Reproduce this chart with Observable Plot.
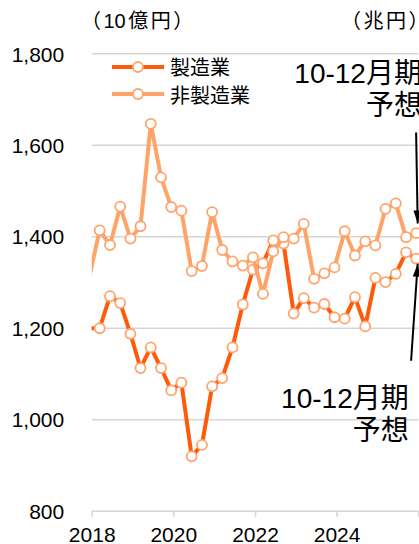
<!DOCTYPE html>
<html><head><meta charset="utf-8">
<script src="https://cdn.jsdelivr.net/npm/d3@7"></script>
<script src="https://cdn.jsdelivr.net/npm/@observablehq/plot@0.6"></script>
<style>
body{margin:0;background:#fff;}
#wrap{position:relative;width:419px;height:544px;overflow:hidden;background:#fff;font-family:"Liberation Sans","Noto Sans CJK JP",sans-serif;color:#000;}
.unit{position:absolute;font-size:20px;letter-spacing:2.5px;line-height:1;white-space:nowrap;}
.unit .num{letter-spacing:0;margin-right:2.5px;}
.legend{position:absolute;left:112px;top:53px;font-size:20px;}
.row{display:flex;align-items:center;height:27.6px;}
.row svg{margin-right:6px;}
</style></head><body><div id="wrap"></div>
<script>
const quarters = ["2017Q4",
 "2018Q1","2018Q2","2018Q3","2018Q4","2019Q1","2019Q2","2019Q3","2019Q4",
 "2020Q1","2020Q2","2020Q3","2020Q4","2021Q1","2021Q2","2021Q3","2021Q4",
 "2022Q1","2022Q2","2022Q3","2022Q4","2023Q1","2023Q2","2023Q3","2023Q4",
 "2024Q1","2024Q2","2024Q3","2024Q4","2025Q1","2025Q2","2025Q3","2025Q4"];
const manufacturing = [1200,
 1200,1270,1255,1188,1113,1158,1113,1064,
 1081,920,945,1073,1091,1158,1252,1328,
 1342,1392,1385,1232,1266,1245,1253,1224,
 1221,1268,1204,1310,1301,1319,1366,1352];
const nonManufacturing = [1316,
 1414,1382,1466,1396,1423,1647,1530,1465,
 1457,1325,1336,1454,1371,1346,1337,1355,
 1275,1368,1399,1396,1428,1308,1320,1333,
 1412,1359,1390,1381,1461,1473,1399,1408];
const seriesNames = ["製造業","非製造業"];
const yTicks = [800,1000,1200,1400,1600,1800];
const xTickYears = [2018,2020,2022,2024,2026];
const xLabelYears = [2018,2020,2022,2024];
const unitLabels = ["（10億円）","（兆円）"];
// annotations: label text, label anchor (date, value), arrow tail and tip
const noteText = ["10-12月期\n予想","10-12月期\n予想"];
const noteDate = ["2026-01-29","2025-10-03"];
const noteValue = [1724,1012];
const arrowTailDate = ["2025-12-08","2025-10-24"];
const arrowTailValue = [1628,1129];
const arrowTipDate = ["2025-12-22","2025-12-22"];
const arrowTipValue = [1429,1341];
const arrowRotate = [179,4];

const mfgColor = "#ff5a0a", nonColor = "#ffa468", markerStroke = "#ffa46c", gridColor = "#d6d6d6";

const toDate = q => new Date(Date.UTC(+q.slice(0,4), (+q[5]-1)*3 + 2, 9));
const rows = quarters.map((q,i)=>({date: toDate(q), mfg: manufacturing[i], non: nonManufacturing[i]}));
const start = new Date(Date.UTC(xTickYears[0],0,1));
const shown = rows.filter(d => d.date >= start);
const xTicks = xTickYears.map(y => new Date(Date.UTC(y,0,1)));
const notes = noteText.map((t,i)=>({t, date:new Date(noteDate[i]), v:noteValue[i],
  td:new Date(arrowTailDate[i]), tv:arrowTailValue[i], hd:new Date(arrowTipDate[i]), hv:arrowTipValue[i], rot:arrowRotate[i]}));
const arrowHead = {draw(ctx){ ctx.moveTo(0,0); ctx.lineTo(-4,13); ctx.lineTo(4,13); ctx.closePath(); }};

const chart = Plot.plot({
  width:419, height:544,
  marginLeft:91.7, marginRight:0.7, marginTop:53.3, marginBottom:33.3,
  x:{type:"utc", domain:[xTicks[0], xTicks[xTicks.length-1]]},
  y:{domain:[800,1800]},
  style:{fontFamily:'"Liberation Sans","Noto Sans CJK JP",sans-serif', fontSize:"21px", color:"#000", background:"transparent"},
  marks:[
    Plot.ruleY(yTicks, {stroke:gridColor, strokeWidth:1.6}),
    Plot.axisY({ticks:yTicks, tickSize:0, tickPadding:28, tickFormat:d3.format(","), fontSize:21, label:null, dy:1}),
    Plot.axisX({ticks:xTicks, tickSize:6, stroke:gridColor, strokeWidth:1.6, tickFormat:()=>"", label:null}),
    Plot.axisX({ticks:xLabelYears.map(y=>new Date(Date.UTC(y,0,1))), tickSize:0, tickPadding:16, tickFormat:d=>String(d.getUTCFullYear()), fill:"#000", fontSize:21, label:null}),
    Plot.line(rows, {x:"date", y:"mfg", stroke:mfgColor, strokeWidth:4, clip:true}),
    Plot.dot(shown, {x:"date", y:"mfg", r:5, fill:"white", stroke:markerStroke, strokeWidth:1.8}),
    Plot.line(rows, {x:"date", y:"non", stroke:nonColor, strokeWidth:4, clip:true}),
    Plot.dot(shown, {x:"date", y:"non", r:5, fill:"white", stroke:markerStroke, strokeWidth:1.8}),
    Plot.link(notes, {x1:"td", y1:"tv", x2:"hd", y2:"hv", stroke:"#000", strokeWidth:2}),
    Plot.dot(notes, {x:"hd", y:"hv", symbol:arrowHead, rotate:"rot", fill:"#000", stroke:null}),
    Plot.text(notes, {x:"date", y:"v", text:"t", textAnchor:"end", lineAnchor:"middle", fontSize:28, lineHeight:1.14, fill:"#000"})
  ]
});
const wrap = document.getElementById("wrap");
wrap.appendChild(chart);

function unit(label, left){
  const u = document.createElement("div"); u.className="unit";
  u.innerHTML = label.replace(/(\d+)/g, '<span class="num">$1</span>');
  u.style.left = left + "px"; u.style.top = "11px"; wrap.appendChild(u);
}
unit(unitLabels[0], 81);
unit(unitLabels[1], 341);

const legend = document.createElement("div"); legend.className="legend";
seriesNames.forEach((name,i)=>{
  const c = i===0 ? mfgColor : nonColor;
  const r = document.createElement("div"); r.className="row";
  r.innerHTML = `<svg width="52" height="14"><line x1="0" x2="52" y1="7" y2="7" stroke="${c}" stroke-width="4"/><circle cx="26" cy="7" r="5" fill="white" stroke="${markerStroke}" stroke-width="1.8"/></svg><span>${name}</span>`;
  legend.appendChild(r);
});
wrap.appendChild(legend);
</script></body></html>
